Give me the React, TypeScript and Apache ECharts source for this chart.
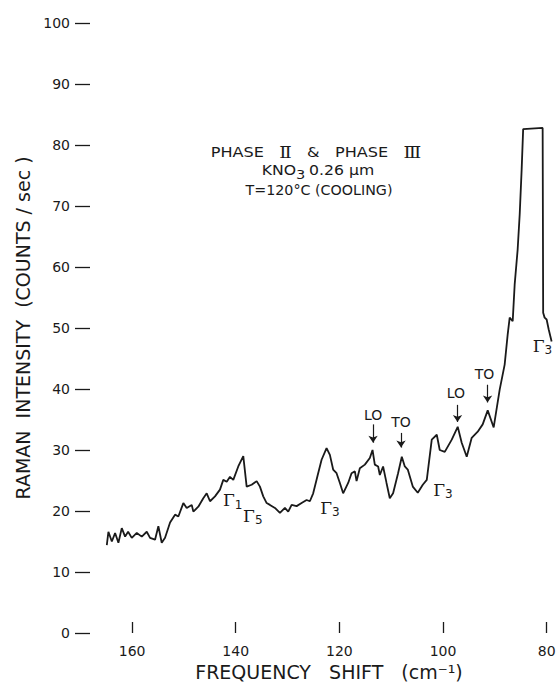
import React, { useEffect, useRef } from "react";
import * as echarts from "echarts";

// Frequency shift (cm^-1) and Raman intensity (counts/sec)
const freqShift = [
  164.88, 164.57, 163.91, 163.28, 162.64, 161.99, 161.35, 160.77, 160.06, 159.09,
  158.13, 157.17, 156.53, 155.57, 154.93, 154.28, 153.64, 152.67, 151.71, 151.07,
  150.11, 149.46, 148.49, 148.18, 147.22, 146.26, 145.6, 144.96, 144.0, 143.04,
  142.4, 141.74, 141.11, 140.47, 139.51, 138.54, 137.89, 136.93, 135.96, 135.33,
  134.69, 134.03, 133.4, 132.43, 131.47, 130.51, 129.87, 129.21, 128.25, 127.29,
  126.32, 125.69, 125.05, 124.09, 123.43, 122.47, 121.83, 121.2, 120.54, 119.9,
  119.27, 118.3, 117.65, 117.01, 116.68, 116.05, 115.08, 114.12, 113.6, 113.16,
  112.52, 112.19, 111.56, 110.9, 110.27, 109.63, 108.67, 107.95, 107.37, 106.8,
  105.83, 104.87, 103.9, 103.13, 102.17, 101.2, 100.63, 99.66, 98.31, 97.16,
  96.39, 95.42, 94.46, 93.3, 92.34, 91.37, 90.22, 89.06, 88.1, 87.52,
  87.13, 86.55, 86.17, 85.59, 85.2, 84.82, 84.53, 80.77, 80.67, 80.39,
  80.0, 79.61, 79.04,
];
const intensity = [
  14.4, 16.6, 15.0, 16.4, 14.8, 17.2, 15.8, 16.6, 15.6, 16.4,
  15.8, 16.6, 15.6, 15.3, 17.5, 14.8, 15.6, 18.1, 19.4, 19.1,
  21.3, 20.5, 21.0, 19.9, 20.7, 22.1, 22.9, 21.6, 22.4, 23.5,
  25.1, 24.8, 25.6, 25.1, 27.3, 29.0, 24.0, 24.3, 24.9, 24.0,
  22.4, 21.3, 21.0, 20.5, 19.7, 20.5, 19.9, 21.0, 20.8, 21.3,
  21.8, 21.6, 22.9, 26.2, 28.4, 30.3, 29.2, 26.8, 26.2, 24.6,
  22.9, 24.6, 26.2, 26.5, 24.9, 27.0, 27.6, 28.7, 30.0, 27.6,
  27.3, 25.9, 27.3, 24.6, 22.1, 22.9, 26.2, 28.9, 27.3, 26.8,
  24.0, 23.0, 24.3, 25.1, 31.7, 32.5, 30.0, 29.7, 31.7, 33.8,
  31.2, 28.9, 32.0, 33.0, 34.2, 36.5, 33.7, 39.9, 44.0, 48.9,
  51.7, 51.1, 57.1, 62.9, 68.6, 76.0, 82.6, 82.8, 52.5, 51.7,
  51.4, 49.8, 47.8,
];

const xTickValues = [160, 140, 120, 100, 80];

// Mode labels (LO / TO) with their arrows, in data units
const modeLabels = ["LO", "TO", "LO", "TO"];
const modeLabelAt = [
  [113.5, 35.8],
  [108.1, 34.6],
  [97.5, 39.4],
  [92.0, 42.4],
];
const modeArrowFrom = [
  [113.5, 34.2],
  [108.1, 32.8],
  [97.2, 37.4],
  [91.4, 40.7],
];
const modeArrowTo = [
  [113.5, 31.2],
  [108.1, 30.4],
  [97.2, 34.6],
  [91.4, 37.8],
];

// Gamma symmetry labels
const gammaSubs = ["1", "5", "3", "3", "3"];
const gammaAt = [
  [140.6, 21.8],
  [136.7, 19.2],
  [121.8, 20.5],
  [100.0, 23.5],
  [80.8, 47.1],
];

const INK = "#1a1a1a";
const FONT = "DejaVu Sans";

export default function App() {
  const ref = useRef<HTMLDivElement>(null);

  useEffect(() => {
    if (!ref.current) return;
    const chart = echarts.init(ref.current, undefined, { renderer: "svg" });

    const lineData = freqShift.map((f, i) => [f, intensity[i]]);

    const option: any = {
      animation: false,
      backgroundColor: "#ffffff",
      grid: {
        left: 101,
        right: 3,
        top: 23,
        bottom: 50,
        containLabel: false,
        outerBoundsMode: "none",
      },
      xAxis: {
        type: "value",
        inverse: true,
        min: 78,
        max: 166,
        axisLine: { show: false },
        splitLine: { show: false },
        axisTick: {
          show: true,
          inside: true,
          length: 11,
          customValues: xTickValues,
          lineStyle: { color: INK, width: 1.3 },
        },
        axisLabel: {
          customValues: xTickValues,
          margin: 11,
          fontSize: 14,
          fontFamily: FONT,
          color: INK,
        },
        name: "FREQUENCY   SHIFT   (cm⁻¹)",
        nameLocation: "middle",
        nameGap: 24,
        nameTextStyle: {
          fontSize: 19,
          fontFamily: FONT,
          color: INK,
        },
      },
      yAxis: {
        type: "value",
        min: 0,
        max: 100,
        interval: 10,
        offset: 11,
        axisLine: { show: false },
        splitLine: { show: false },
        axisTick: {
          show: true,
          length: 15,
          lineStyle: { color: INK, width: 1.3 },
        },
        axisLabel: {
          margin: 20,
          fontSize: 14,
          fontFamily: FONT,
          color: INK,
        },
        name: "RAMAN  INTENSITY  (COUNTS / sec )",
        nameLocation: "middle",
        nameGap: 57,
        nameTextStyle: { fontSize: 19, fontFamily: FONT, color: INK },
      },
      graphic: [
        {
          type: "text",
          x: 316,
          y: 152,
          scaleX: 1.15,
          style: {
            text: "{t|PHASE}   {r|Ⅱ}   {t|&}   {t|PHASE}   {r|Ⅲ}",
            align: "center",
            verticalAlign: "middle",
            fill: INK,
            font: `14px ${FONT}`,
            rich: {
              t: { fontSize: 14, fontFamily: FONT, fill: INK },
              r: { fontSize: 16, fontFamily: "DejaVu Serif", fill: INK },
            },
          },
        },
        {
          type: "text",
          x: 318,
          y: 170,
          scaleX: 1.12,
          style: {
            text: "{t|KNO}{s|3} {t|0.26 μm}",
            align: "center",
            verticalAlign: "middle",
            fill: INK,
            rich: {
              t: { fontSize: 14, fontFamily: FONT, fill: INK },
              s: { fontSize: 13, fontFamily: FONT, fill: INK, padding: [9, 0, 0, 0] },
            },
          },
        },
        {
          type: "text",
          x: 319,
          y: 190,
          scaleX: 1.02,
          style: {
            text: "T=120°C (COOLING)",
            align: "center",
            verticalAlign: "middle",
            fill: INK,
            font: `14px ${FONT}`,
          },
        },
      ],
      series: [
        {
          type: "line",
          data: lineData,
          showSymbol: false,
          smooth: false,
          silent: true,
          lineStyle: { color: INK, width: 1.8 },
          markLine: {
            silent: true,
            symbol: ["none", "arrow"],
            symbolSize: 7,
            label: { show: false },
            lineStyle: { color: INK, width: 1.2, type: "solid" },
            data: modeArrowFrom.map((from, i) => [
              { coord: from },
              { coord: modeArrowTo[i] },
            ]),
          },
          markPoint: {
            silent: true,
            symbol: "circle",
            symbolSize: 1,
            itemStyle: { color: "rgba(0,0,0,0)" },
            data: [
              ...modeLabels.map((t, i) => ({
                coord: modeLabelAt[i],
                label: {
                  show: true,
                  position: "inside",
                  formatter: t,
                  fontSize: 14,
                  fontFamily: FONT,
                  color: INK,
                },
              })),
              ...gammaSubs.map((s, i) => ({
                coord: gammaAt[i],
                label: {
                  show: true,
                  position: "inside",
                  formatter: `{g|Γ}{s|${s}}`,
                  rich: {
                    g: { fontSize: 17, fontFamily: "DejaVu Serif", color: INK },
                    s: {
                      fontSize: 12,
                      fontFamily: FONT,
                      color: INK,
                      padding: [9, 0, 0, 0],
                    },
                  },
                },
              })),
            ],
          },
        },
      ],
    };

    chart.setOption(option);
    return () => chart.dispose();
  }, []);

  return (
    <div
      ref={ref}
      style={{ position: "fixed", left: 0, top: 0, width: 560, height: 683 }}
    />
  );
}
